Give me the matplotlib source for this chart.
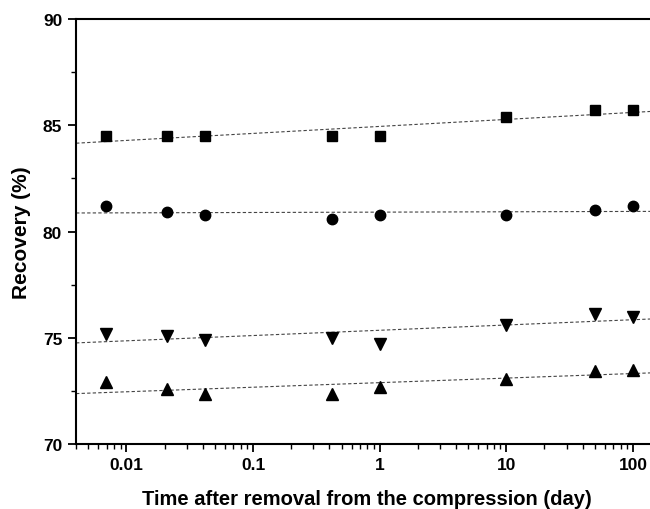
import matplotlib
matplotlib.use("Agg")
import matplotlib.pyplot as plt
import matplotlib.ticker as mticker
import numpy as np

plt.rcParams['font.family'] = ['Liberation Sans', 'DejaVu Sans']

# time after removal (day)
days = [0.0069, 0.0208, 0.0417, 0.417, 1, 10, 50, 100]

# recovery (%) for the four samples
rec_square = [84.5, 84.5, 84.5, 84.5, 84.5, 85.4, 85.7, 85.7]
rec_circle = [81.2, 80.9, 80.8, 80.6, 80.8, 80.8, 81.0, 81.2]
rec_tri_down = [75.2, 75.1, 74.9, 75.0, 74.7, 75.6, 76.1, 76.0]
rec_tri_up = [72.9, 72.6, 72.35, 72.35, 72.7, 73.05, 73.45, 73.5]

series = [(rec_square, 's', 7), (rec_circle, 'o', 7.5),
          (rec_tri_down, 'v', 8), (rec_tri_up, '^', 8)]

fig = plt.figure(figsize=(6.5, 5.1), dpi=100)
ax = fig.add_axes([0.117, 0.1275, 0.891, 0.833])

xlim = (0.004, 150)
xfit = np.logspace(np.log10(xlim[0]), np.log10(xlim[1]), 50)

for vals, mk, ms in series:
    # linear fit in log(time)
    k, b = np.polyfit(np.log10(days), vals, 1)
    ax.plot(xfit, k * np.log10(xfit) + b, ls=(0, (3, 2)), lw=0.8, color='#444444', zorder=1)
    ax.plot(days, vals, ls='none', marker=mk, ms=ms, color='black', zorder=2)

ax.set_xscale('log')
ax.set_xlim(xlim)
ax.set_ylim(70, 90)
ax.set_yticks([70, 75, 80, 85, 90])
ax.yaxis.set_minor_locator(mticker.MultipleLocator(2.5))
ax.xaxis.set_major_locator(mticker.FixedLocator([0.01, 0.1, 1, 10, 100]))
ax.xaxis.set_major_formatter(mticker.FixedFormatter(['0.01', '0.1', '1', '10', '100']))
ax.xaxis.set_minor_locator(mticker.LogLocator(base=10, subs=np.arange(2, 10)))
ax.xaxis.set_minor_formatter(mticker.NullFormatter())

ax.spines['right'].set_visible(False)
for s in ['left', 'bottom', 'top']:
    ax.spines[s].set_linewidth(1.5)
ax.tick_params(which='major', direction='out', length=6, width=1.3, labelsize=12.5)
ax.tick_params(which='minor', direction='out', length=3.5, width=1.0)
ax.tick_params(axis='y', pad=4)
for lab in ax.get_xticklabels() + ax.get_yticklabels():
    lab.set_fontweight('bold')

ax.set_xlabel('Time after removal from the compression (day)', fontsize=14.5, fontweight='bold')
ax.set_ylabel('Recovery (%)', fontsize=15, fontweight='bold')
ax.xaxis.set_label_coords(0.503, -0.105)
ax.yaxis.set_label_coords(-0.078, 0.5)

fig.savefig('out.png', dpi=100)
